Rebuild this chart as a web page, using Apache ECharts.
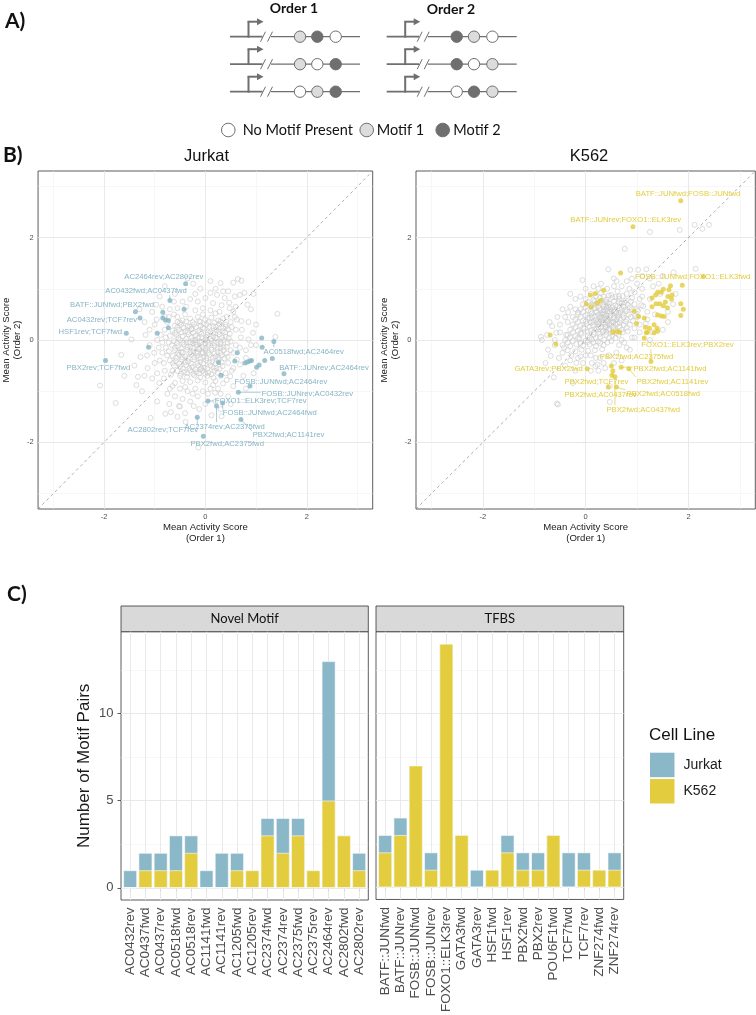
<!DOCTYPE html>
<html><head><meta charset="utf-8">
<script src="https://cdn.jsdelivr.net/npm/echarts@6/dist/echarts.min.js"></script>
<style>html,body{margin:0;padding:0;background:#fff}#c{width:756px;height:1015px}</style>
</head><body><div id="c"></div>
<script>
// ---------------- DATA ----------------
// Panel B: Jurkat, all motif pairs (grey open circles) [order1, order2]
const jurkatGrey = [
[-0.45,0.38],[-0.3,0.42],[-0.15,0.45],[0.0,0.40],[0.12,0.44],[0.25,0.38],[-0.55,0.35],[0.35,0.42],[-0.05,0.50],[0.2,0.52],
[-0.6,0.28],[-0.48,0.30],[-0.35,0.27],[-0.22,0.31],[-0.1,0.28],[0.02,0.30],[0.15,0.27],[0.28,0.31],[0.4,0.26],[-0.28,0.22],
[-0.65,0.18],[-0.52,0.2],[-0.4,0.17],[-0.27,0.21],[-0.14,0.18],[-0.02,0.22],[0.1,0.16],[0.22,0.2],[0.34,0.17],[0.45,0.21],[-0.08,0.12],
[-0.7,0.08],[-0.57,0.1],[-0.45,0.07],[-0.33,0.11],[-0.2,0.08],[-0.08,0.05],[0.04,0.1],[0.16,0.07],[0.28,0.11],[0.4,0.06],[-0.38,0.02],[0.1,0.02],
[-0.62,-0.02],[-0.5,0.0],[-0.37,-0.04],[-0.25,-0.01],[-0.12,-0.03],[0.0,0.0],[0.12,-0.02],[0.24,-0.05],[0.36,0.0],[-0.72,-0.05],[0.5,-0.03],
[-0.66,-0.1],[-0.54,-0.12],[-0.42,-0.09],[-0.3,-0.13],[-0.18,-0.1],[-0.06,-0.14],[0.06,-0.1],[0.18,-0.12],[0.3,-0.08],[0.42,-0.13],[-0.24,-0.07],[0.0,-0.07],
[-0.6,-0.2],[-0.48,-0.23],[-0.36,-0.19],[-0.24,-0.22],[-0.12,-0.18],[0.0,-0.21],[0.12,-0.19],[0.24,-0.23],[0.36,-0.2],[-0.72,-0.22],[-0.05,-0.26],
[-0.64,-0.31],[-0.52,-0.29],[-0.4,-0.32],[-0.28,-0.28],[-0.16,-0.31],[-0.04,-0.33],[0.08,-0.29],[0.2,-0.32],[0.32,-0.3],[0.44,-0.33],
[-0.58,-0.41],[-0.46,-0.38],[-0.34,-0.42],[-0.22,-0.39],[-0.1,-0.43],[0.02,-0.4],[0.14,-0.42],[0.26,-0.38],[-0.7,-0.4],
[-0.62,-0.5],[-0.5,-0.52],[-0.38,-0.49],[-0.26,-0.53],[-0.14,-0.5],[-0.02,-0.54],[0.1,-0.5],[0.22,-0.55],[0.34,-0.51],
[-0.55,-0.6],[-0.42,-0.62],[-0.3,-0.59],[-0.18,-0.63],[-0.06,-0.6],[0.06,-0.64],[0.18,-0.6],[-0.1,-0.57],
[-0.5,-0.7],[-0.36,-0.72],[-0.22,-0.69],[-0.1,-0.73],[0.04,-0.7],[0.16,-0.74],[0.3,-0.7],
[-0.45,-0.8],[-0.3,-0.82],[-0.15,-0.79],[0.0,-0.83],[0.2,-0.8],[-0.6,-0.84],
[-0.2,0.0],[-0.35,0.15],[0.05,0.15],[-0.15,-0.25],[0.15,-0.35],[-0.45,-0.25],[-0.3,-0.05],[0.2,0.05],[-0.1,0.35],[0.3,-0.15],
[-0.05,0.62],[0.1,0.58],[-0.2,0.58],[0.28,0.55],[-0.4,0.5],[0.42,0.45],
[-0.5,0.34],[-0.38,0.36],[-0.25,0.35],[-0.12,0.37],[0.06,0.35],[0.18,0.34],[0.3,0.36],
[-0.55,0.25],[-0.43,0.24],[-0.31,0.26],[-0.18,0.25],[-0.05,0.24],[0.08,0.26],[0.21,0.25],[0.35,0.24],
[-0.6,0.14],[-0.47,0.15],[-0.24,0.14],[-0.11,0.15],[0.15,0.14],[0.27,0.16],[0.39,0.15],
[-0.53,0.04],[-0.27,0.05],[-0.14,0.04],[0.02,0.05],[0.22,0.04],[0.33,0.05],[0.46,0.04],
[-0.56,-0.06],[-0.44,-0.05],[-0.19,-0.05],[-0.07,-0.04],[0.06,-0.05],[0.18,-0.06],[0.3,-0.04],[0.44,-0.06],
[-0.6,-0.15],[-0.48,-0.16],[-0.36,-0.14],[-0.24,-0.15],[-0.12,-0.14],[0.0,-0.16],[0.12,-0.15],[0.24,-0.16],[0.36,-0.14],
[-0.54,-0.25],[-0.3,-0.24],[-0.18,-0.26],[-0.06,-0.24],[0.06,-0.25],[0.18,-0.26],[0.3,-0.25],[0.42,-0.26],
[-0.58,-0.35],[-0.46,-0.34],[-0.34,-0.36],[-0.22,-0.34],[-0.1,-0.36],[0.02,-0.35],[0.26,-0.34],[0.38,-0.36],
[-0.64,-0.45],[-0.52,-0.46],[-0.4,-0.44],[-0.28,-0.46],[-0.16,-0.45],[-0.04,-0.46],[0.08,-0.44],[0.2,-0.46],[0.32,-0.44],
[-0.44,-0.56],[-0.32,-0.55],[-0.2,-0.57],[-0.08,-0.55],[0.04,-0.56],[0.16,-0.54],[0.28,-0.56],
[-0.48,-0.66],[-0.36,-0.65],[-0.24,-0.66],[-0.12,-0.65],[0.0,-0.66],[0.12,-0.67],[0.24,-0.64],
[-0.97,0.69],[-0.96,0.40],[-1.01,-0.25],[-1.18,0.10],[-1.28,-0.33],[-1.14,-0.55],[-1.33,-0.72],[-1.36,-0.88],[-0.91,-0.84],[-1.66,-0.29],
[-1.46,0.01],[-2.08,-0.89],[-1.77,-1.23],[-1.08,-1.52],[-0.79,-1.44],[-0.68,-1.41],[-0.71,-1.25],[-0.40,-1.43],[-0.39,-1.60],[-0.14,-2.10],
[-0.23,-1.29],[-0.52,-1.29],[0.12,-1.47],[0.32,-1.49],[0.19,-1.03],[0.49,-0.71],[0.68,-0.48],[0.71,0.37],[0.85,0.01],[0.94,0.14],
[1.38,0.06],[1.42,0.51],[0.77,0.92],[0.68,0.88],[0.83,0.69],[0.64,1.19],[0.71,1.16],[0.55,1.12],[0.30,1.11],[-0.24,1.10],[0.23,0.88],[0.47,0.73],
[-0.8,0.2],[-0.85,-0.05],[-0.9,-0.4],[-0.8,-0.6],[-0.95,0.0],[-0.75,0.35],[-0.7,0.6],[-0.55,0.62],[-0.45,0.75],[-0.3,0.8],
[-0.15,0.75],[0.0,0.82],[0.15,0.72],[0.32,0.68],[0.55,0.55],[0.5,0.35],[0.6,0.2],[0.7,0.05],[0.6,-0.1],[0.55,-0.25],
[0.45,-0.45],[0.4,-0.65],[0.35,-0.85],[0.25,-0.95],[0.1,-0.95],[-0.05,-1.0],[-0.2,-0.95],[-0.35,-1.0],[-0.5,-0.95],[-0.65,-0.9],
[-0.75,-1.05],[-0.6,-1.1],[-0.45,-1.15],[-0.3,-1.2],[-0.15,-1.1],[0.05,-1.05],[-1.05,-0.75],[-1.15,-0.3],[-1.0,0.3],[-0.9,0.85],
[-0.6,0.9],[-0.55,0.45],[0.45,0.95],[0.58,0.85],[0.9,0.6],[0.95,0.9],[1.0,-0.1],[0.8,-0.2],[0.75,-0.7],[0.55,-0.9],
[0.45,-1.1],[0.3,-1.35],[-0.12,-1.35],[-0.55,-1.5],[-0.95,-1.2],[-1.25,-1.0],[-1.4,-0.5],[-1.6,-0.7],[-1.2,0.35],[-1.05,0.55],
[0.2,1.0],[-0.1,1.0],[0.1,1.15],[-0.85,-0.25],[-0.78,0.05],[0.62,0.4],[0.48,0.12],[-0.68,-0.68],[-0.82,-0.45],[0.52,-0.6],
[-0.8,0.45],[-0.88,0.1],[-0.92,-0.15],[-0.75,-0.3],[-0.82,-0.75],[-0.7,-0.95],[-0.4,-0.92],[-0.25,-1.05],[0.15,-0.88],[0.3,-1.05],
[0.42,-0.78],[0.55,-0.55],[0.62,-0.38],[0.68,-0.15],[0.72,0.2],[0.58,0.45],[0.48,0.62],[0.38,0.82],[0.1,0.92],[-0.2,0.9],
[-0.38,0.65],[-0.62,0.75],[-0.85,0.65],[-1.1,0.2],[-1.1,-0.1],[-1.0,-0.45],[-0.95,-0.65],[-1.2,-0.7],[-0.5,-1.3],[0.0,-1.25],
[0.2,-1.2],[0.5,-1.25],[0.8,-0.95],[0.95,-0.65],[1.0,0.3],[0.85,0.35],[0.8,-0.35],[0.9,-0.1],[-1.3,0.6],[-0.8,1.05],
[-0.35,1.2],[0.35,0.95],[0.6,0.65],[0.5,-0.2],[-0.72,0.45],[-0.62,0.5],[-0.65,-0.6],[-0.78,-0.15],[0.4,0.3],[0.52,0.25]
];
// Jurkat: motif pairs with differential activity (filled)
const jurkatHits = [
[-0.39,1.10],[-0.70,0.77],[-0.42,0.60],[-1.38,0.55],[-0.84,0.54],[-0.84,0.43],[-0.79,0.39],[-0.73,0.38],[-1.29,0.43],[-0.73,0.24],
[-1.56,0.13],[-0.95,0.13],[-1.12,-0.14],[-1.97,-0.40],[0.26,-0.44],[0.63,-0.25],[0.58,-0.41],[0.31,-0.69],[1.11,0.04],[1.12,-0.14],
[1.35,-0.03],[0.78,-0.45],[0.83,-0.43],[0.88,-0.41],[0.91,-0.40],[1.01,-0.53],[1.06,-0.49],[1.17,-0.40],[1.32,-0.36],[1.55,-0.66],
[0.88,-0.90],[0.65,-1.02],[0.05,-1.19],[0.34,-1.23],[0.22,-1.29],[0.70,-1.55],[-0.16,-1.51],[-0.04,-1.88]
];
const jurkatLabelNames = ['AC2464rev;AC2802rev','AC0432fwd;AC0437fwd','BATF::JUNfwd;PBX2fwd','AC0432rev;TCF7rev','HSF1rev;TCF7fwd',
'PBX2rev;TCF7fwd','AC0518fwd;AC2464rev','BATF::JUNrev;AC2464rev','FOSB::JUNfwd;AC2464rev','FOSB::JUNrev;AC0432rev',
'FOXO1::ELK3rev;TCF7rev','FOSB::JUNfwd;AC2464fwd','AC2374rev;AC2375fwd','AC2802rev;TCF7rev','PBX2fwd;AC1141rev','PBX2fwd;AC2375fwd'];
const jurkatLabelPoints = [[-0.39,1.10],[-0.70,0.77],[-1.38,0.55],[-1.29,0.43],[-1.56,0.13],[-1.97,-0.40],[1.35,-0.03],[1.55,-0.66],
[0.88,-0.90],[0.65,-1.02],[0.05,-1.19],[0.34,-1.23],[0.22,-1.29],[-0.16,-1.51],[0.70,-1.55],[-0.04,-1.88]];
const jurkatLabelAt = [[-0.82,1.24],[-1.17,0.96],[-1.84,0.68],[-2.04,0.40],[-2.27,0.16],[-2.11,-0.55],[1.94,-0.23],[2.34,-0.55],
[1.49,-0.81],[2.01,-1.05],[1.09,-1.18],[1.27,-1.42],[0.38,-1.69],[-0.84,-1.75],[1.64,-1.86],[0.43,-2.02]];

// K562
const k562Grey = [
[0.1,0.9],[0.3,0.92],[0.5,0.88],[0.62,0.95],[0.8,0.9],[0.95,0.93],[0.42,1.0],[0.7,1.05],
[0.0,0.8],[0.15,0.78],[0.28,0.82],[0.4,0.79],[0.52,0.83],[0.65,0.8],[0.78,0.77],[0.9,0.82],[1.05,0.8],
[-0.05,0.7],[0.1,0.68],[0.22,0.72],[0.34,0.69],[0.46,0.71],[0.58,0.68],[0.7,0.72],[0.82,0.69],[0.95,0.7],[1.08,0.68],
[-0.1,0.6],[0.05,0.58],[0.17,0.62],[0.29,0.59],[0.41,0.61],[0.53,0.58],[0.65,0.62],[0.77,0.59],[0.9,0.6],[1.02,0.57],[0.35,0.65],[0.47,0.55],
[-0.15,0.5],[0.0,0.48],[0.12,0.52],[0.24,0.49],[0.36,0.51],[0.48,0.48],[0.6,0.52],[0.72,0.49],[0.84,0.5],[0.96,0.47],[0.3,0.45],[0.55,0.44],[0.42,0.42],
[-0.2,0.4],[-0.05,0.38],[0.08,0.42],[0.2,0.39],[0.32,0.41],[0.44,0.38],[0.56,0.42],[0.68,0.39],[0.8,0.4],[0.92,0.37],[0.26,0.35],[0.5,0.33],[0.38,0.3],
[-0.25,0.3],[-0.1,0.28],[0.02,0.32],[0.14,0.29],[0.26,0.31],[0.38,0.26],[0.5,0.28],[0.62,0.32],[0.74,0.29],[0.86,0.3],[0.2,0.22],[0.44,0.2],
[-0.3,0.2],[-0.15,0.18],[-0.02,0.22],[0.1,0.19],[0.22,0.21],[0.34,0.18],[0.46,0.22],[0.58,0.19],[0.7,0.2],[0.82,0.17],[0.28,0.12],
[-0.35,0.1],[-0.2,0.08],[-0.08,0.12],[0.04,0.09],[0.16,0.11],[0.28,0.06],[0.4,0.1],[0.52,0.08],[0.64,0.1],
[-0.4,0.0],[-0.25,-0.02],[-0.12,0.02],[0.0,-0.01],[0.12,0.01],[0.24,-0.03],[0.36,0.0],[0.5,-0.02],
[-0.45,-0.1],[-0.3,-0.12],[-0.18,-0.08],[-0.05,-0.11],[0.08,-0.09],[0.2,-0.12],[0.35,-0.1],
[-0.35,-0.2],[-0.2,-0.22],[-0.08,-0.19],[0.05,-0.21],[0.18,-0.2],[-0.28,-0.3],[-0.1,-0.32],[0.1,-0.3],
[0.3,0.38],[0.4,0.48],[0.36,0.58],[0.46,0.32],[0.25,0.25],[0.55,0.55],[0.6,0.4],[0.15,0.35],[0.45,0.65],[0.33,0.15],
[0.65,0.5],[0.2,0.55],[0.7,0.6],[0.12,0.45],[0.52,0.15],[0.4,0.75],[0.32,0.5],[0.48,0.6],[0.58,0.3],[0.27,0.62],
[0.2,0.86],[0.35,0.85],[0.45,0.87],[0.58,0.84],[0.72,0.86],
[0.05,0.74],[0.18,0.76],[0.3,0.75],[0.43,0.73],[0.55,0.76],[0.65,0.74],[0.76,0.73],[0.88,0.75],
[0.0,0.64],[0.12,0.66],[0.24,0.65],[0.4,0.66],[0.52,0.64],[0.62,0.66],[0.74,0.65],[0.86,0.64],
[-0.05,0.55],[0.1,0.56],[0.22,0.54],[0.34,0.55],[0.42,0.56],[0.58,0.55],[0.68,0.54],[0.8,0.56],
[-0.1,0.45],[0.05,0.44],[0.18,0.46],[0.28,0.44],[0.36,0.45],[0.46,0.44],[0.62,0.45],[0.74,0.44],[0.88,0.45],
[-0.15,0.35],[0.0,0.36],[0.1,0.34],[0.22,0.35],[0.34,0.34],[0.42,0.36],[0.54,0.35],[0.66,0.34],[0.78,0.36],
[-0.2,0.25],[-0.05,0.24],[0.08,0.26],[0.3,0.25],[0.4,0.24],[0.54,0.25],[0.66,0.26],[0.8,0.24],
[-0.25,0.15],[-0.1,0.14],[0.04,0.16],[0.16,0.15],[0.4,0.16],[0.6,0.14],[0.72,0.15],
[-0.3,0.05],[-0.15,0.04],[0.08,0.05],[0.2,0.04],[0.46,0.05],[0.58,0.04],
[-0.35,-0.05],[-0.1,-0.06],[0.04,-0.04],[0.15,-0.05],[0.28,-0.06],[0.42,-0.05],
[-0.87,0.06],[-0.85,0.0],[-0.65,0.27],[-0.57,0.14],[-0.73,-0.19],[-0.68,-0.31],[-0.62,-0.73],[-0.56,-1.24],[-0.54,-1.26],[-0.52,-0.35],
[-0.38,0.10],[-0.34,0.54],[-0.15,0.54],[-0.06,1.17],[0.44,1.38],[0.76,1.78],[1.25,2.11],[1.83,2.15],[2.12,2.25],[2.27,2.17],
[2.40,2.25],[2.14,1.39],[1.71,1.32],[1.18,1.38],[1.02,1.37],[0.87,1.37],[0.47,-0.90],[0.47,-1.21],[0.86,-0.19],[0.23,-0.48],
[0.19,-0.51],[-0.18,-0.45],[-0.25,-0.84],[0.32,-0.18],
[1.12,0.66],[1.2,0.55],[1.0,0.45],[0.95,0.23],[1.17,0.32],[1.45,0.9],[1.3,0.15],[1.6,0.35],[1.31,1.05],[1.42,1.1],
[1.1,1.0],[1.25,0.8],[1.05,0.15],[0.9,0.05],[0.75,-0.05],[0.8,1.15],[0.55,1.2],[0.3,1.1],[0.15,1.05],[-0.2,0.8],
[-0.3,0.65],[-0.4,0.45],[-0.5,0.3],[-0.45,-0.25],[-0.6,-0.1],[-0.05,-0.45],[0.28,-0.35],[0.45,-0.3],[0.6,-0.25],[0.55,-0.45],
[0.38,-0.55],[0.7,-0.4],[1.6,0.55],[1.75,0.9],[1.5,1.25],[0.1,-0.6],[-0.2,-0.6],[0.65,0.85],[0.85,1.0],[1.0,1.1],
[-0.45,0.6],[-0.55,0.45],[-0.6,0.0],[-0.5,0.15],[-0.42,-0.15],[-0.3,-0.4],[-0.4,-0.5],[-0.15,-0.35],[0.0,-0.3],[0.2,-0.35],
[-0.25,0.45],[-0.35,0.35],[-0.2,0.6],[-0.1,0.85],[0.0,1.0],[0.25,1.0],[0.55,1.05],[0.9,1.2],[1.1,1.25],[1.25,1.2],
[1.0,0.6],[1.1,0.85],[1.2,0.4],[1.05,0.3],[0.95,0.05],[1.25,0.0],[1.5,0.2],[1.7,0.7],[1.35,0.5],[0.8,-0.15],
[0.65,-0.1],[0.7,0.0],[-0.75,0.1],[-0.78,-0.45],[-0.7,0.35],[0.12,-0.45],[0.35,-0.45],[0.25,-0.6],[-0.3,0.9],[0.6,1.15]
];
const k562Hits = [
[1.85,2.72],[0.92,2.21],[2.29,1.24],[0.68,1.31],[1.88,1.07],
[1.65,1.06],[1.51,0.99],[1.40,0.93],[1.47,0.93],[1.62,0.98],[1.68,0.88],[1.60,0.85],[1.36,0.88],[1.29,0.82],[1.44,0.71],
[1.51,0.67],[1.37,0.71],[1.55,0.74],[1.67,0.80],[1.90,0.60],[1.85,0.71],[1.29,0.65],[1.59,0.63],[1.40,0.49],[1.47,0.47],
[1.53,0.46],[1.85,0.48],[1.14,0.43],[1.39,0.23],[1.33,0.30],[1.40,0.17],[1.16,0.25],[1.24,0.23],[1.18,0.14],[1.33,0.14],
[1.14,0.04],[1.03,0.46],[0.99,0.32],[0.94,0.56],[1.20,0.15],
[0.35,0.97],[0.19,0.91],[0.09,0.88],[0.01,0.71],[0.22,0.72],[0.29,0.77],[0.11,0.65],[0.61,0.17],[0.66,0.15],[0.53,0.15],
[-0.69,0.10],[-0.58,-0.08],[0.03,-0.56],[1.27,-0.42],[0.69,-0.53],[0.84,-0.56],[0.50,-0.51],[0.53,-0.60],[0.51,-0.69],[0.57,-0.72],
[0.44,-0.92],[0.60,-0.92]
];
const k562LabelNames = ['BATF::JUNfwd;FOSB::JUNfwd','BATF::JUNrev;FOXO1::ELK3rev','FOSB::JUNfwd;FOXO1::ELK3fwd','FOXO1::ELK3rev;PBX2rev',
'PBX2fwd;AC2375fwd','PBX2fwd;AC1141fwd','PBX2fwd;AC1141rev','GATA3rev;PBX2fwd','PBX2fwd;TCF7rev','PBX2fwd;AC0437rev','PBX2fwd;AC0518fwd','PBX2fwd;AC0437fwd'];
const k562LabelPoints = [[1.85,2.72],[0.92,2.21],[2.29,1.24],[1.27,-0.42],[0.50,-0.51],[0.69,-0.53],[0.84,-0.56],[0.03,-0.56],
[0.53,-0.60],[0.44,-0.92],[0.60,-0.92],[0.57,-0.72]];
const k562LabelAt = [[1.99,2.86],[0.78,2.34],[2.08,1.24],[1.98,-0.10],[0.99,-0.33],[1.64,-0.56],[1.69,-0.81],[-0.72,-0.56],
[0.21,-0.81],[0.29,-1.08],[1.51,-1.06],[1.12,-1.36]];

// Panel C: number of motif pairs per motif
const novelMotifs = ['AC0432rev','AC0437fwd','AC0437rev','AC0518fwd','AC0518rev','AC1141fwd','AC1141rev','AC1205fwd',
'AC1205rev','AC2374fwd','AC2374rev','AC2375fwd','AC2375rev','AC2464rev','AC2802fwd','AC2802rev'];
const novelK562 =   [0,1,1,1,2,0,0,1,1,3,2,3,1,5,3,1];
const novelJurkat = [1,1,1,2,1,1,2,1,0,1,2,1,0,8,0,1];
const tfbsMotifs = ['BATF::JUNfwd','BATF::JUNrev','FOSB::JUNfwd','FOSB::JUNrev','FOXO1::ELK3rev','GATA3fwd','GATA3rev','HSF1fwd',
'HSF1rev','PBX2fwd','PBX2rev','POU6F1fwd','TCF7fwd','TCF7rev','ZNF274fwd','ZNF274rev'];
const tfbsK562 =   [2,3,7,1,14,3,0,1,2,1,1,3,0,1,1,1];
const tfbsJurkat = [1,1,0,1,0,0,1,0,1,1,1,0,2,1,0,1];

const scatterTicks = [-2,0,2];
const scatterMinor = [-3,-1,1,3];
const barTicks = [0,5,10];
const barMinor = [2.5,7.5,12.5];

// ---------------- STYLE ----------------
const BLUE = '#86b5c5', YELLOW = '#e2cc3c', BLUE_BAR = '#8ab8c8', YELLOW_BAR = '#e3cd3e';
const FONT = 'Liberation Sans';
const LBL_FS = 7.7;
const mctx = document.createElement('canvas').getContext('2d');
mctx.font = LBL_FS + 'px "' + FONT + '"';
const majorLS = {color:'#e6e6e6', width:0.9, type:'solid'};
const minorLS = {color:'#f0f0f0', width:0.55, type:'solid'};

function gridLineSeries(idx, xMaj, xMin, yMaj, yMin, anchor) {
  const d = [];
  xMin.forEach(v => d.push({xAxis:v, lineStyle:minorLS}));
  yMin.forEach(v => d.push({yAxis:v, lineStyle:minorLS}));
  xMaj.forEach(v => d.push({xAxis:v, lineStyle:majorLS}));
  yMaj.forEach(v => d.push({yAxis:v, lineStyle:majorLS}));
  return {type:'scatter', xAxisIndex:idx, yAxisIndex:idx, data:[anchor], symbolSize:0, silent:true, z:1,
    markLine:{silent:true, symbol:['none','none'], z:1, animation:false, label:{show:false}, emphasis:{disabled:true}, data:d}};
}

function labelSeries(idx, names, pts, at, color) {
  return {type:'custom', xAxisIndex:idx, yAxisIndex:idx, silent:true, z:6, clip:false,
    data: pts.map((p,i)=>[p[0],p[1],at[i][0],at[i][1]]),
    renderItem: function(params, api){
      const p = api.coord([api.value(0), api.value(1)]);
      const c = api.coord([api.value(2), api.value(3)]);
      const name = names[params.dataIndex];
      const w = mctx.measureText(name).width, h = LBL_FS*1.15;
      const x0=c[0]-w/2-1, x1=c[0]+w/2+1, y0=c[1]-h/2, y1=c[1]+h/2;
      const qx=Math.min(Math.max(p[0],x0),x1), qy=Math.min(Math.max(p[1],y0),y1);
      const dist=Math.hypot(p[0]-qx,p[1]-qy);
      const ch=[];
      if (dist>5) ch.push({type:'line', shape:{x1:p[0],y1:p[1],x2:qx,y2:qy}, style:{stroke:color, lineWidth:0.7}});
      ch.push({type:'text', style:{text:name, x:c[0], y:c[1], align:'center', verticalAlign:'middle',
        fontSize:LBL_FS, fontFamily:FONT, fill:color}});
      return {type:'group', children:ch};
    }};
}

function scatterAxes(idx, title, isX) {
  return {type:'value', gridIndex:idx, min:-3.3, max:3.3,
    axisLine:{show:false}, splitLine:{show:false},
    axisTick:{show:true, customValues:scatterTicks, length:2.5, lineStyle:{color:'#333', width:0.7}},
    axisLabel:{customValues:scatterTicks, fontSize:7.5, color:'#4d4d4d', fontFamily:FONT, margin:isX?4:4.5, formatter:v=>String(v)},
    name:title, nameLocation:'middle', nameGap:isX?12.3:12.6,
    nameTextStyle:{fontSize:9.6, color:'#1a1a1a', fontFamily:FONT, lineHeight:11}};
}

function barX(idx, names) {
  return {type:'value', gridIndex:idx, min:0.4, max:16.6, axisLine:{show:false}, splitLine:{show:false},
    axisTick:{show:true, customValues:names.map((n,i)=>i+1), length:3.5, lineStyle:{color:'#333', width:0.8}},
    axisLabel:{customValues:names.map((n,i)=>i+1), rotate:90, fontSize:13.5, color:'#4d4d4d', fontFamily:FONT, margin:7.5,
      formatter:v=>names[Math.round(v)-1] || ''}};
}
function barY(idx, show) {
  return {type:'value', gridIndex:idx, min:-0.7, max:14.7, axisLine:{show:false}, splitLine:{show:false},
    axisTick:{show:show, customValues:barTicks, length:3.5, lineStyle:{color:'#333', width:0.8}},
    axisLabel:{show:show, customValues:barTicks, fontSize:13, color:'#4d4d4d', fontFamily:FONT, margin:7.5},
    name: show ? 'Number of Motif Pairs' : '', nameLocation:'middle', nameGap:28,
    nameTextStyle:{fontSize:17, color:'#1a1a1a', fontFamily:FONT}};
}

// stacked bars: Jurkat segment sits on top of the K562 segment (drawn as cumulative height behind K562)
function barSeries(idx, name, vals, base, color, z) {
  return {type:'bar', name:name, xAxisIndex:idx, yAxisIndex:idx, barWidth:13.7, barGap:'-100%', z:z,
    itemStyle:{color:color, borderColor:'#ffffff', borderWidth:0.6},
    data: vals.map((v,i)=>[i+1, v + (base ? base[i] : 0)])};
}

// ---------------- PANEL A graphic ----------------
const G = '#6f6f6f', LIGHT = '#dcdcdc';
const gfx = [];
function t(text, x, y, size, bold, align, family) {
  gfx.push({type:'text', x:x, y:y, style:{text:text, fontSize:size, fontWeight:bold?'bold':'normal', fontFamily:family||'Lato',
    fill:'#111', align:align||'left', verticalAlign:'middle'}});
}
function ln(x1,y1,x2,y2,w){ gfx.push({type:'line', shape:{x1,y1,x2,y2}, style:{stroke:G, lineWidth:w}}); }
function circ(cx,cy,r,kind){
  const fill = kind==='d'?G:(kind==='l'?LIGHT:'#fff');
  gfx.push({type:'circle', shape:{cx,cy,r}, style:{fill:fill, stroke:G, lineWidth:1}});
}
const rowsY = [36.7, 64.2, 91.7];
const orders = [{dx:0, rows:[['l','d','w'],['l','w','d'],['w','l','d']]},
                {dx:156.7, rows:[['d','l','w'],['d','w','l'],['w','d','l']]}];
orders.forEach(o=>{
  rowsY.forEach((y,ri)=>{
    const ox=o.dx;
    ln(230+ox,y,263+ox,y,1.8);
    ln(248.5+ox,y+0.9,248.5+ox,y-15,2);
    ln(247.5+ox,y-15,258+ox,y-15,2);
    gfx.push({type:'polygon', shape:{points:[[257+ox,y-18.5],[263.5+ox,y-15],[257+ox,y-11.5]]}, style:{fill:G}});
    gfx.push({type:'rect', shape:{x:262.5+ox,y:y-2,width:6,height:4}, style:{fill:'#fff'}});
    ln(260.5+ox,y+5,265.5+ox,y-5,1);
    ln(267.5+ox,y+5,272.5+ox,y-5,1);
    ln(271+ox,y,360+ox,y,1.2);
    [300,317.3,335.7].forEach((cx,ci)=>circ(cx+ox,y,5.7,o.rows[ri][ci]));
  });
});
t('Order 1',294,8,14,true,'center');
t('Order 2',451,9,14,true,'center');
circ(228.3,130,6.8,'w'); t('No Motif Present',242.7,130.5,14.5,false,'left');
circ(366.7,130,6.8,'l'); t('Motif 1',376.7,130.5,14.5,false,'left');
circ(442.7,130,6.8,'d'); t('Motif 2',453.3,130.5,14.5,false,'left');
// panel letters and titles
t('A)',5,21,21,true,'left');
t('B)',3,155,21,true,'left');
t('C)',7,594,21,true,'left');
t('Jurkat',206.5,156,16.5,false,'center',FONT);
t('K562',589,156,16.5,false,'center',FONT);
// facet strips
gfx.push({type:'rect', shape:{x:121,y:606,width:247.3,height:25.7}, style:{fill:'#d9d9d9', stroke:'#333', lineWidth:0.8}});
gfx.push({type:'rect', shape:{x:376,y:606,width:247.7,height:25.7}, style:{fill:'#d9d9d9', stroke:'#333', lineWidth:0.8}});
t('Novel Motif',244.7,619,13,false,'center','Lato');
t('TFBS',499.8,619,13,false,'center','Lato');
t('Cell Line',649,735,17,false,'left',FONT);

// ---------------- OPTION ----------------
const gridBase = {show:true, borderColor:'#333', borderWidth:0.8, backgroundColor:'transparent', containLabel:false};
const option = {
  animation:false,
  backgroundColor:'#fff',
  textStyle:{fontFamily:FONT},
  grid:[
    Object.assign({left:34.3, top:171, width:338.4, height:338}, gridBase),
    Object.assign({left:416, top:171, width:339.3, height:338}, gridBase),
    Object.assign({left:121, top:631.7, width:247.3, height:268.3}, gridBase),
    Object.assign({left:376, top:631.7, width:247.7, height:268.3}, gridBase)
  ],
  xAxis:[scatterAxes(0,'Mean Activity Score\n(Order 1)',true), scatterAxes(1,'Mean Activity Score\n(Order 1)',true),
         barX(2, novelMotifs), barX(3, tfbsMotifs)],
  yAxis:[scatterAxes(0,'Mean Activity Score\n(Order 2)',false), scatterAxes(1,'Mean Activity Score\n(Order 2)',false),
         barY(2,true), barY(3,false)],
  legend:{data:['Jurkat','K562'], orient:'vertical', left:650, top:752.7, padding:0, itemWidth:24.5, itemHeight:24.5, itemGap:1.8,
    icon:'rect', selectedMode:false, itemStyle:{borderWidth:0},
    textStyle:{fontSize:14, color:'#1a1a1a', fontFamily:FONT, padding:[0,0,0,4]}},
  graphic:{elements:gfx},
  series:[
    gridLineSeries(0, scatterTicks, scatterMinor, scatterTicks, scatterMinor, [0,0]),
    gridLineSeries(1, scatterTicks, scatterMinor, scatterTicks, scatterMinor, [0,0]),
    gridLineSeries(2, novelMotifs.map((n,i)=>i+1), [], barTicks, barMinor, [1,0]),
    gridLineSeries(3, tfbsMotifs.map((n,i)=>i+1), [], barTicks, barMinor, [1,0]),
    {type:'scatter', name:'jurkat-all', xAxisIndex:0, yAxisIndex:0, data:jurkatGrey, symbolSize:5, z:2, silent:true,
      itemStyle:{color:'rgba(0,0,0,0)', borderColor:'#c6c6c6', borderWidth:0.75},
      markLine:{silent:true, symbol:['none','none'], z:3, label:{show:false}, animation:false,
        lineStyle:{color:'#8a8a8a', width:0.7, type:[3,3]}, data:[[{coord:[-3.3,-3.3]},{coord:[3.3,3.3]}]]}},
    {type:'scatter', name:'k562-all', xAxisIndex:1, yAxisIndex:1, data:k562Grey, symbolSize:5, z:2, silent:true,
      itemStyle:{color:'rgba(0,0,0,0)', borderColor:'#c6c6c6', borderWidth:0.75},
      markLine:{silent:true, symbol:['none','none'], z:3, label:{show:false}, animation:false,
        lineStyle:{color:'#8a8a8a', width:0.7, type:[3,3]}, data:[[{coord:[-3.3,-3.3]},{coord:[3.3,3.3]}]]}},
    {type:'scatter', name:'jurkat-hits', xAxisIndex:0, yAxisIndex:0, data:jurkatHits, symbolSize:5, z:4, silent:true,
      itemStyle:{color:BLUE}},
    {type:'scatter', name:'k562-hits', xAxisIndex:1, yAxisIndex:1, data:k562Hits, symbolSize:5, z:4, silent:true,
      itemStyle:{color:YELLOW}},
    labelSeries(0, jurkatLabelNames, jurkatLabelPoints, jurkatLabelAt, BLUE),
    labelSeries(1, k562LabelNames, k562LabelPoints, k562LabelAt, YELLOW),
    barSeries(2,'Jurkat',novelJurkat,novelK562,BLUE_BAR,2),
    barSeries(2,'K562',novelK562,null,YELLOW_BAR,3),
    barSeries(3,'Jurkat',tfbsJurkat,tfbsK562,BLUE_BAR,2),
    barSeries(3,'K562',tfbsK562,null,YELLOW_BAR,3)
  ]
};
const chart = echarts.init(document.getElementById('c'), null, {renderer:'canvas', width:756, height:1015});
chart.setOption(option);
</script></body></html>
